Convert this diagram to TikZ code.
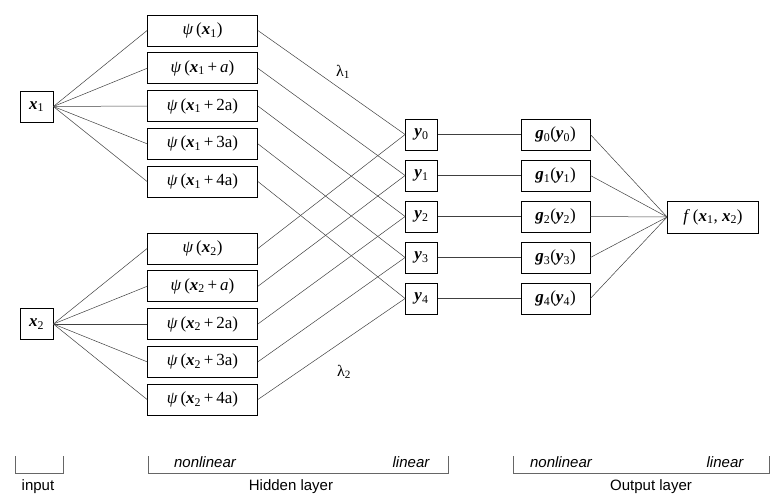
\documentclass[tikz,border=0pt]{standalone}
\usepackage{fontspec}
\setmainfont{Liberation Serif}
\setsansfont{Liberation Sans}
\newcommand{\bsub}[2]{\textbf{\textit{#1}}\textsubscript{#2}}
\newcommand{\psib}[1]{\textit{ψ}\,(#1)}
\begin{document}
\begin{tikzpicture}[x=1pt,y=-1pt,
    box/.style={draw, line width=0.8pt, inner sep=0pt, minimum height=31pt, font=\fontsize{17}{20}\selectfont},
    wire/.style={line width=0.5pt, black!75},
    bracket/.style={line width=0.6pt, black!60},
    lbl/.style={font=\sffamily\fontsize{15}{18}\selectfont}]
  \useasboundingbox (0,0) rectangle (777,501);
  % input
  \node at (36.5,106.5) [box, minimum width=33pt] (x1) {\bsub{x}{1}};
  \node at (36.5,324) [box, minimum width=33pt] (x2) {\bsub{x}{2}};
  % hidden layer, nonlinear part
  \node at (202.5,30.5) [box, minimum width=110pt] (p10) {\psib{\bsub{x}{1}}};
  \node at (202.5,68.3) [box, minimum width=110pt] (p11) {\psib{\bsub{x}{1}\,+\,\textit{a}}};
  \node at (202.5,106) [box, minimum width=110pt] (p12) {\psib{\bsub{x}{1}\,+\,2a}};
  \node at (202.5,143.8) [box, minimum width=110pt] (p13) {\psib{\bsub{x}{1}\,+\,3a}};
  \node at (202.5,181.5) [box, minimum width=110pt] (p14) {\psib{\bsub{x}{1}\,+\,4a}};
  \node at (202.5,248.5) [box, minimum width=110pt] (p20) {\psib{\bsub{x}{2}}};
  \node at (202.5,286.3) [box, minimum width=110pt] (p21) {\psib{\bsub{x}{2}\,+\,\textit{a}}};
  \node at (202.5,324) [box, minimum width=110pt] (p22) {\psib{\bsub{x}{2}\,+\,2a}};
  \node at (202.5,361.8) [box, minimum width=110pt] (p23) {\psib{\bsub{x}{2}\,+\,3a}};
  \node at (202.5,399.5) [box, minimum width=110pt] (p24) {\psib{\bsub{x}{2}\,+\,4a}};
  % hidden layer, linear part
  \node at (421.5,134.5) [box, minimum width=32pt] (y0) {\bsub{y}{0}};
  \node at (421.5,175.5) [box, minimum width=32pt] (y1) {\bsub{y}{1}};
  \node at (421.5,216.5) [box, minimum width=32pt] (y2) {\bsub{y}{2}};
  \node at (421.5,257.5) [box, minimum width=32pt] (y3) {\bsub{y}{3}};
  \node at (421.5,298.5) [box, minimum width=32pt] (y4) {\bsub{y}{4}};
  \node at (343,72) [font=\fontsize{16}{19}\selectfont] (l1) {λ\textsubscript{1}};
  \node at (344,372) [font=\fontsize{16}{19}\selectfont] (l2) {λ\textsubscript{2}};
  % output layer
  \node at (555.5,134.5) [box, minimum width=69pt] (g0) {\bsub{g}{0}(\bsub{y}{0})};
  \node at (555.5,175.5) [box, minimum width=69pt] (g1) {\bsub{g}{1}(\bsub{y}{1})};
  \node at (555.5,216.5) [box, minimum width=69pt] (g2) {\bsub{g}{2}(\bsub{y}{2})};
  \node at (555.5,257.5) [box, minimum width=69pt] (g3) {\bsub{g}{3}(\bsub{y}{3})};
  \node at (555.5,298.5) [box, minimum width=69pt] (g4) {\bsub{g}{4}(\bsub{y}{4})};
  \node at (713,217) [box, minimum width=91pt, minimum height=32pt] (f) {\textit{f}\,(\bsub{x}{1}, \bsub{x}{2})};
  % connectors
  \draw[wire] (x1.east) -- (p10.west);
  \draw[wire] (x1.east) -- (p11.west);
  \draw[wire] (x1.east) -- (p12.west);
  \draw[wire] (x1.east) -- (p13.west);
  \draw[wire] (x1.east) -- (p14.west);
  \draw[wire] (x2.east) -- (p20.west);
  \draw[wire] (x2.east) -- (p21.west);
  \draw[wire] (x2.east) -- (p22.west);
  \draw[wire] (x2.east) -- (p23.west);
  \draw[wire] (x2.east) -- (p24.west);
  \draw[wire] (p10.east) -- (y0.west);
  \draw[wire] (p11.east) -- (y1.west);
  \draw[wire] (p12.east) -- (y2.west);
  \draw[wire] (p13.east) -- (y3.west);
  \draw[wire] (p14.east) -- (y4.west);
  \draw[wire] (p20.east) -- (y0.west);
  \draw[wire] (p21.east) -- (y1.west);
  \draw[wire] (p22.east) -- (y2.west);
  \draw[wire] (p23.east) -- (y3.west);
  \draw[wire] (p24.east) -- (y4.west);
  \draw[wire] (y0.east) -- (g0.west);
  \draw[wire] (y1.east) -- (g1.west);
  \draw[wire] (y2.east) -- (g2.west);
  \draw[wire] (y3.east) -- (g3.west);
  \draw[wire] (y4.east) -- (g4.west);
  \draw[wire] (g0.east) -- (f.west);
  \draw[wire] (g1.east) -- (f.west);
  \draw[wire] (g2.east) -- (f.west);
  \draw[wire] (g3.east) -- (f.west);
  \draw[wire] (g4.east) -- (f.west);
  % layer brackets
  \draw[bracket] (15.7,456) -- (15.7,473) -- (63,473) -- (63,456);
  \draw[bracket] (148,456) -- (148,473) -- (448,473) -- (448,456);
  \draw[bracket] (513,456) -- (513,473) -- (769,473) -- (769,456);
  \node at (205,462.5) [lbl] (nl1) {\itshape nonlinear};
  \node at (411,462.5) [lbl] (li1) {\itshape linear};
  \node at (561,462.5) [lbl] (nl2) {\itshape nonlinear};
  \node at (725,462.5) [lbl] (li2) {\itshape linear};
  \node at (38,487) [lbl] (inp) {input};
  \node at (291,487) [lbl] (hid) {Hidden layer};
  \node at (651,487) [lbl] (out) {Output layer};
\end{tikzpicture}
\end{document}
